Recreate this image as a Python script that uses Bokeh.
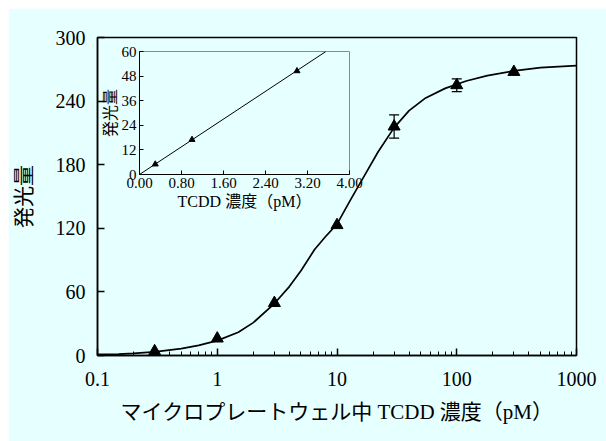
from bokeh.plotting import figure
from bokeh.layouts import column
from bokeh.models import Range1d, FixedTicker, NumeralTickFormatter, Whisker, ColumnDataSource, TeeHead
from bokeh.embed import file_html
from bokeh.resources import INLINE

# ---- data ----
CURVE_X = [0.1, 0.15, 0.2, 0.3, 0.5, 0.7, 1.0, 1.5, 2.0, 3.0, 4.0, 5.0, 6.5, 8.0, 10, 13, 17, 22, 30, 40, 55, 80, 120, 180, 300, 500, 1000]
CURVE_Y = [1.0, 1.3, 2.0, 3.5, 6.5, 9.5, 14, 22, 31, 49, 65, 80, 100, 112, 124, 147, 170, 192, 215, 231, 243, 252, 259, 264, 268.5, 271.5, 273.5]

PTS_X = [0.3, 1, 3, 10, 30, 100, 300]
PTS_Y = [4, 16, 49.5, 123, 216, 255, 267.5]
PTS_ERR = [0, 0, 0, 0, 11, 6, 0]

X_TICKS = [0.1, 1, 10, 100, 1000]
X_TICK_LABELS = ["0.1", "1", "10", "100", "1000"]
Y_TICKS = [0, 60, 120, 180, 240, 300]

IN_PTS_X = [0.3, 1, 3]
IN_PTS_Y = [5, 17, 50.5]
IN_LINE_X = [0, 3.55]
IN_LINE_Y = [0, 60]
IN_X_TICKS = [0, 0.8, 1.6, 2.4, 3.2, 4.0]
IN_Y_TICKS = [0, 12, 24, 36, 48, 60]

BG = "#E6FFFF"
FONT = "Liberation Serif, Noto Sans CJK JP"

# ---- main figure ----
p = figure(width=598, height=433, x_axis_type="log",
           x_range=Range1d(0.1, 1000), y_range=Range1d(0, 300),
           output_backend="svg", toolbar_location=None,
           min_border_left=89, min_border_right=30, min_border_top=29, min_border_bottom=86,
           background_fill_color=BG, border_fill_color=BG, margin=(8, 0, 0, 8))
p.grid.visible = False
p.outline_line_color = "black"
p.outline_line_width = 1.5

minor = [m * 10 ** k for k in range(-1, 3) for m in range(2, 10)]
p.xaxis.ticker = FixedTicker(ticks=X_TICKS, minor_ticks=minor)
p.xaxis.major_label_overrides = {t: l for t, l in zip(X_TICKS, X_TICK_LABELS)}
p.yaxis.ticker = FixedTicker(ticks=Y_TICKS)

for ax in (p.xaxis[0], p.yaxis[0]):
    ax.axis_line_color = "black"
    ax.axis_line_width = 1.5
    ax.major_tick_in = 7
    ax.major_tick_out = 0
    ax.minor_tick_in = 4
    ax.minor_tick_out = 0
    ax.major_tick_line_width = 1.5
    ax.major_label_text_font = FONT
    ax.major_label_text_font_size = "20px"
    ax.major_label_text_color = "black"
    ax.axis_label_text_font = FONT
    ax.axis_label_text_font_size = "21px"
    ax.axis_label_text_font_style = "normal"
    ax.axis_label_text_color = "black"

p.xaxis.axis_label = "マイクロプレートウェル中 TCDD 濃度（pM）"
p.yaxis.axis_label = "発光量"
p.xaxis.major_label_standoff = 16
p.yaxis.major_label_standoff = 12
p.xaxis.axis_label_standoff = 11
p.yaxis.axis_label_standoff = 17
p.yaxis.minor_tick_line_color = None

p.line(CURVE_X, CURVE_Y, line_color="black", line_width=1.7)

ex = [x for x, e in zip(PTS_X, PTS_ERR) if e > 0]
ey = [y for y, e in zip(PTS_Y, PTS_ERR) if e > 0]
ee = [e for e in PTS_ERR if e > 0]
esrc = ColumnDataSource(dict(x=ex, lo=[y - e for y, e in zip(ey, ee)], hi=[y + e for y, e in zip(ey, ee)]))
p.add_layout(Whisker(source=esrc, base="x", lower="lo", upper="hi", line_color="black", line_width=1.2,
                     upper_head=TeeHead(size=10, line_color="black", line_width=1.2),
                     lower_head=TeeHead(size=10, line_color="black", line_width=1.2)))
p.scatter(PTS_X, PTS_Y, marker="triangle", size=12, fill_color="black", line_color="black")

# ---- inset figure ----
q = figure(width=329, height=170,
           x_range=Range1d(0, 4), y_range=Range1d(0, 60),
           output_backend="svg", toolbar_location=None,
           min_border_left=46, min_border_right=20, min_border_top=6, min_border_bottom=41,
           background_fill_alpha=0, border_fill_alpha=0,
           margin=(-396, 0, 226, 50))
q.grid.visible = False
q.outline_line_color = "#8a8a8a"
q.outline_line_width = 1
q.xaxis.ticker = FixedTicker(ticks=IN_X_TICKS)
q.yaxis.ticker = FixedTicker(ticks=IN_Y_TICKS)
q.xaxis.formatter = NumeralTickFormatter(format="0.00")
for ax in (q.xaxis[0], q.yaxis[0]):
    ax.axis_line_color = "black"
    ax.axis_line_width = 1
    ax.major_tick_in = 4
    ax.major_tick_out = 0
    ax.minor_tick_line_color = None
    ax.major_label_text_font = FONT
    ax.major_label_text_font_size = "15px"
    ax.major_label_text_color = "black"
    ax.axis_label_text_font = FONT
    ax.axis_label_text_font_size = "16px"
    ax.axis_label_text_font_style = "normal"
    ax.axis_label_text_color = "black"
    ax.major_label_standoff = 3
q.xaxis.axis_label = "TCDD 濃度（pM）"
q.yaxis.axis_label = "発光量"
q.xaxis.axis_label_standoff = 2
q.yaxis.axis_label_standoff = 0

q.line(IN_LINE_X, IN_LINE_Y, line_color="black", line_width=1)
q.scatter(IN_PTS_X, IN_PTS_Y, marker="triangle", size=6, fill_color="black", line_color="black")

layout = column(p, q)
open("out.html", "w").write(file_html(layout, INLINE))
